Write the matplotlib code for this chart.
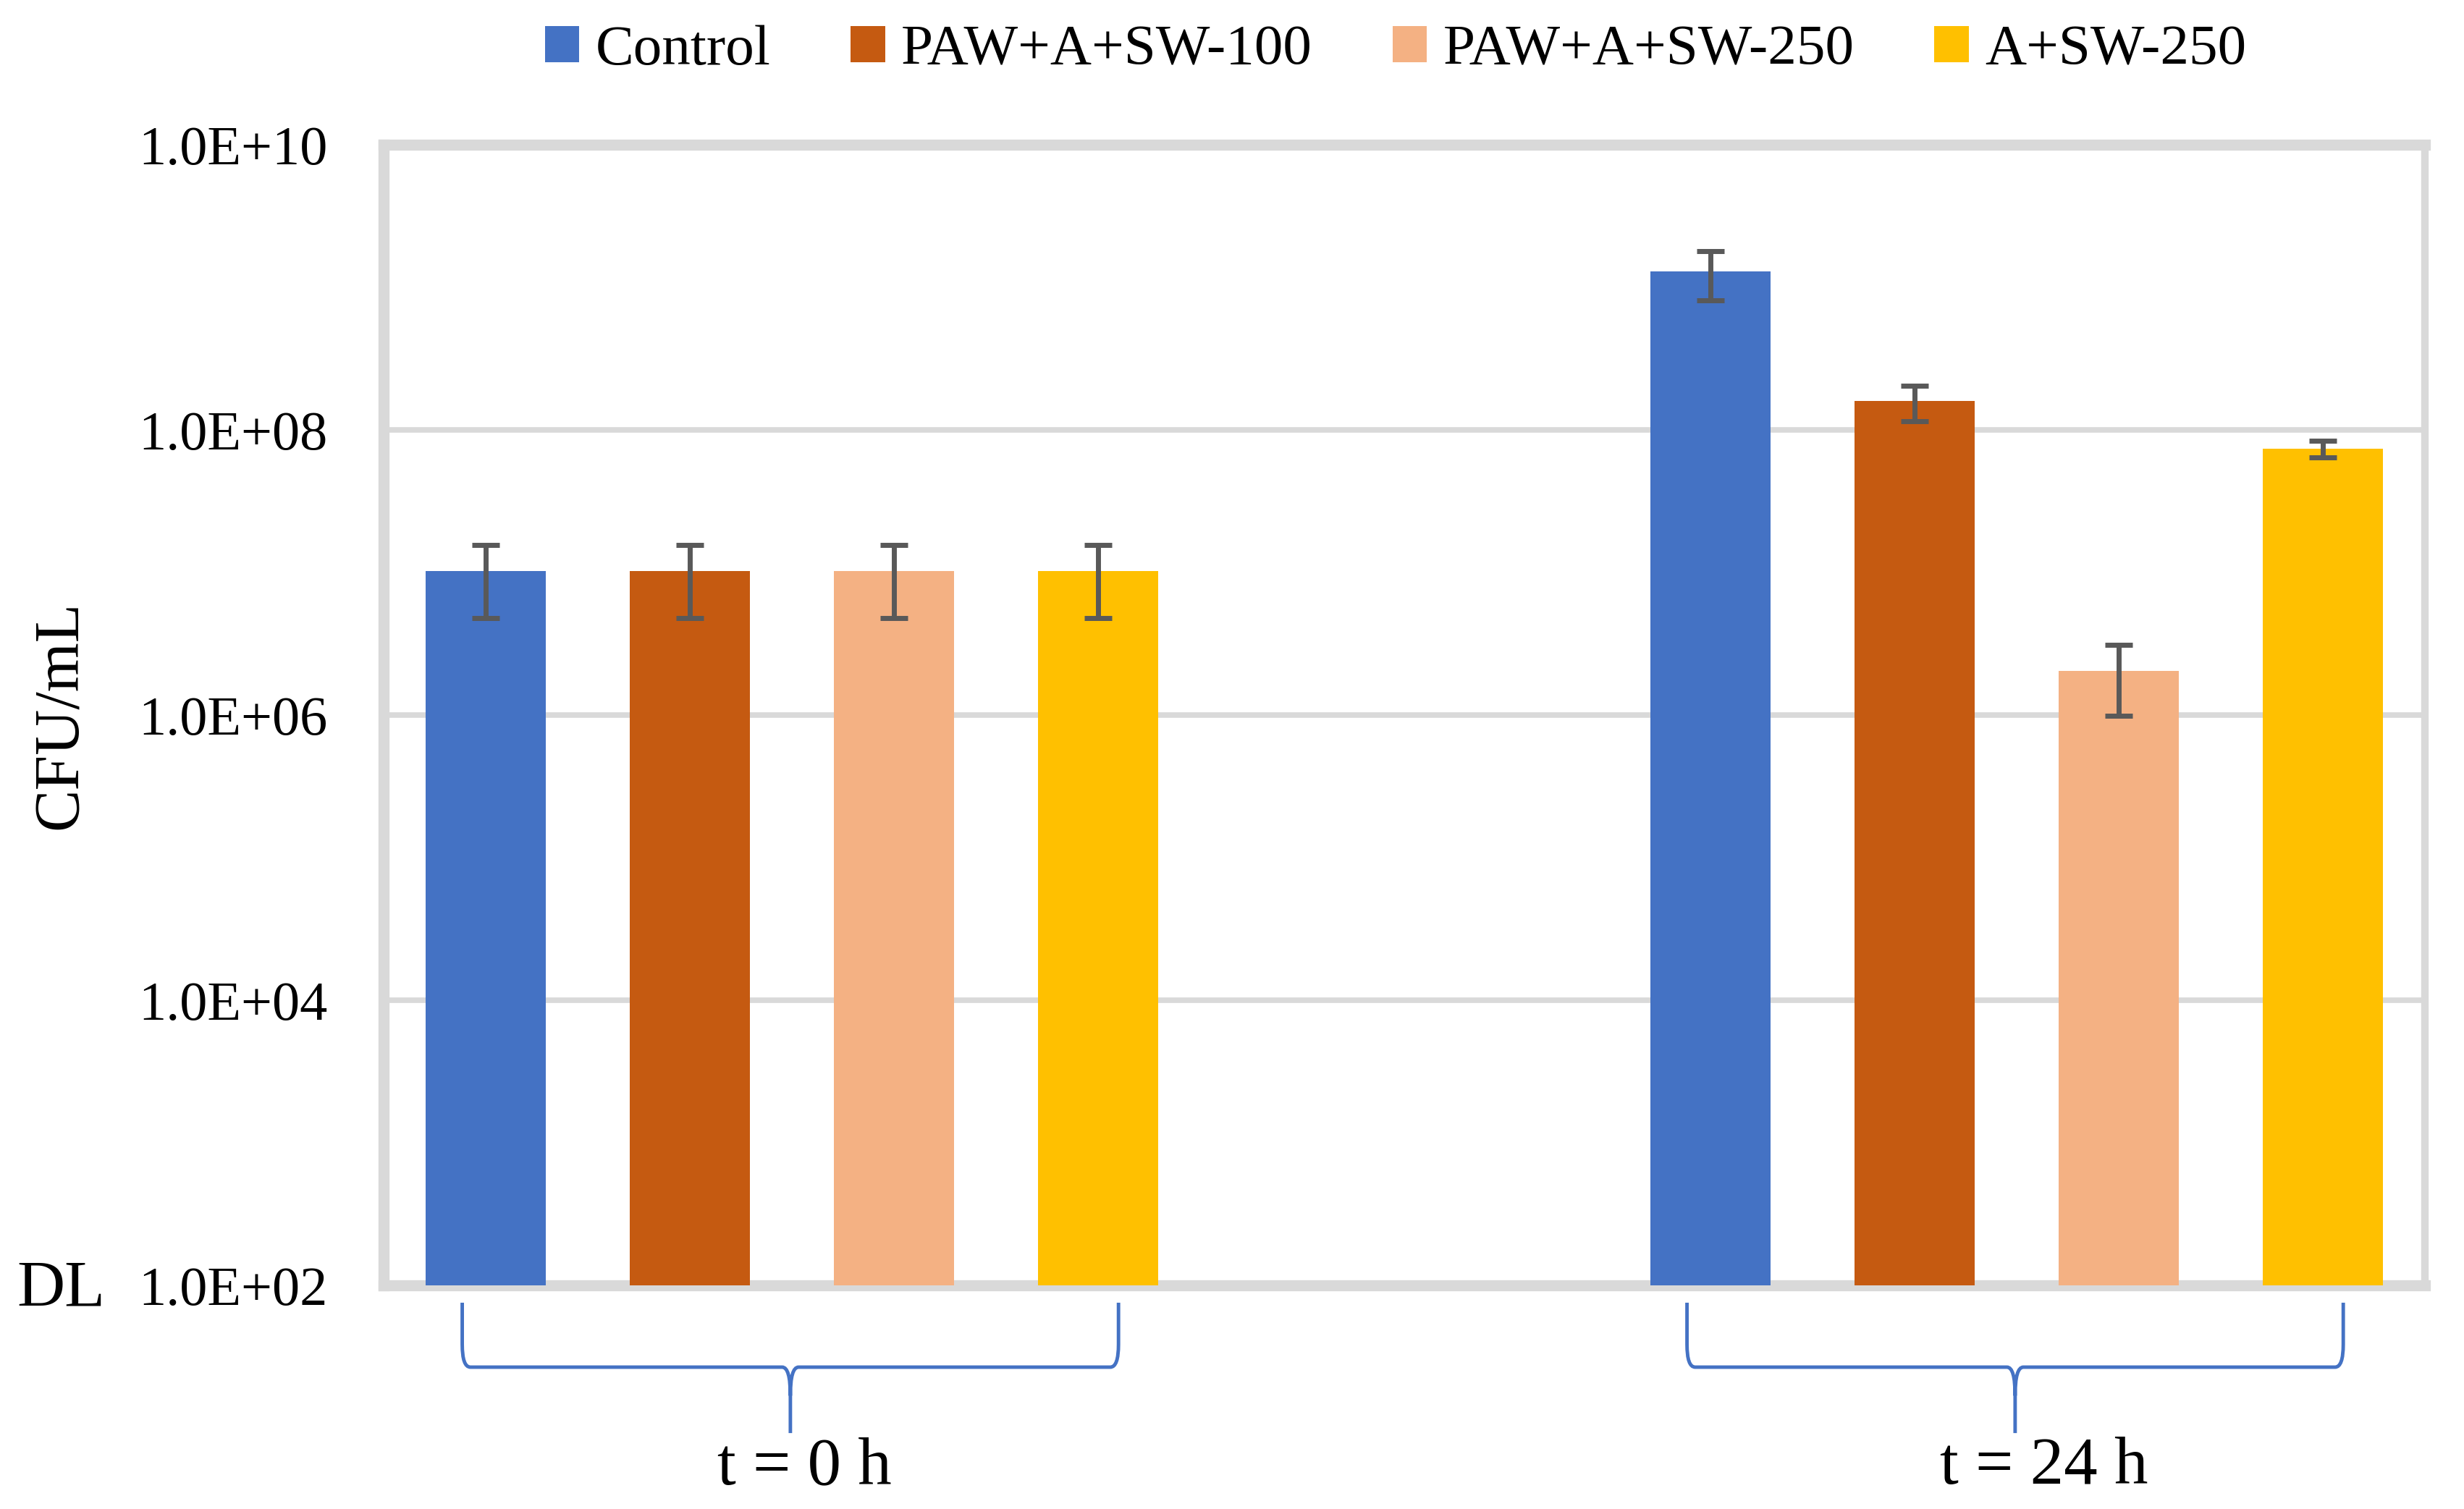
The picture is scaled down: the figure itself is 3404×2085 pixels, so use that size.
import matplotlib
matplotlib.use("Agg")
import matplotlib.pyplot as plt
import numpy as np
from matplotlib.path import Path
from matplotlib.patches import PathPatch
import matplotlib.transforms as mtransforms

plt.rcParams['font.family'] = ['Liberation Serif', 'DejaVu Serif']

# data
times = ["t = 0 h", "t = 24 h"]
series = ["Control", "PAW+A+SW-100", "PAW+A+SW-250", "A+SW-250"]
colors = ["#4472C4", "#C55A11", "#F4B183", "#FFC000"]
cfu_0h = [1.02e7, 1.02e7, 1.02e7, 1.02e7]
err_0h = [5.4e6, 5.4e6, 5.4e6, 5.4e6]
cfu_24h = [1.3e9, 1.6e8, 2.05e6, 7.4e7]
err_24h = [4.9e8, 4.45e7, 1.06e6, 9.7e6]
yticks = [1e2, 1e4, 1e6, 1e8, 1e10]
ytick_labels = ["1.0E+02", "1.0E+04", "1.0E+06", "1.0E+08", "1.0E+10"]

values = np.array([cfu_0h, cfu_24h])
errors = np.array([err_0h, err_24h])

W, H = 3405, 2085
fig = plt.figure(figsize=(W / 100, H / 100), dpi=100)
ax = fig.add_axes([530 / W, 1 - 1776 / H, (3350 - 530) / W, (1776 - 200) / H])

grid_col = "#D9D9D9"
group_step = 6
bar_w = 0.59

for i, name in enumerate(series):
    xs = np.arange(len(times)) * group_step + i
    ax.bar(xs, values[:, i], width=bar_w, color=colors[i], label=name, zorder=2)
    ax.errorbar(xs, values[:, i], yerr=errors[:, i], fmt='none', ecolor='#595959',
                elinewidth=5, capsize=13.5, capthick=5, zorder=3)

ax.set_yscale('log')
ax.set_ylim(1e2, 1e10)
ax.set_xlim(-0.5, 9.5)
ax.set_yticks(yticks)
ax.set_yticklabels(ytick_labels)
ax.yaxis.set_minor_locator(matplotlib.ticker.NullLocator())
ax.set_xticks([])
ax.tick_params(axis='y', length=0, pad=56, labelsize=55)
ax.yaxis.grid(True, color=grid_col, linewidth=5.5)
ax.set_axisbelow(True)

for side in ['left', 'top', 'bottom']:
    ax.spines[side].set_color(grid_col)
    ax.spines[side].set_linewidth(11)
ax.spines['right'].set_color(grid_col)
ax.spines['right'].set_linewidth(7.5)
for sp in ax.spines.values():
    sp.set_zorder(1)

ax.yaxis.set_label_coords(-(530 - 125) / (3350 - 530), 0.5)
ax.set_ylabel("CFU/mL", fontsize=63)

fig.text(23 / W, 1 - 1804 / H, "DL", fontsize=66, ha='left', va='baseline')

# braces under each group
trans = mtransforms.blended_transform_factory(ax.transData, ax.transAxes)
y_top, y_h, y_tip = -0.0152, -0.0717, -0.1295
r = 0.04
label_shift = [0.07, 0.14]
for g, label in enumerate(times):
    xl = g * group_step - 0.115
    xr = g * group_step + len(series) - 1 + 0.1
    xm = (xl + xr) / 2
    verts = [(xl, y_top), (xl, y_h + 0.02), (xl, y_h), (xl + r, y_h),
             (xm - r, y_h), (xm, y_h), (xm, y_h - 0.025), (xm, y_tip),
             (xm, y_h - 0.025), (xm, y_h), (xm + r, y_h),
             (xr - r, y_h), (xr, y_h), (xr, y_h + 0.02), (xr, y_top)]
    codes = [Path.MOVETO, Path.LINETO, Path.CURVE3, Path.CURVE3,
             Path.LINETO, Path.CURVE3, Path.CURVE3, Path.LINETO,
             Path.MOVETO, Path.CURVE3, Path.CURVE3,
             Path.LINETO, Path.CURVE3, Path.CURVE3, Path.LINETO]
    patch = PathPatch(Path(verts, codes), transform=trans, fill=False,
                      edgecolor="#4472C4", linewidth=3.5, clip_on=False)
    ax.add_patch(patch)
    ax.text(xm + label_shift[g], (1776 - 2050) / 1576, label, transform=trans,
            fontsize=67, ha='center', va='baseline')

fig.legend(loc='center', bbox_to_anchor=(1928 / W, 1 - 70 / H), ncol=4, frameon=False,
           fontsize=57, handlelength=0.6, handleheight=0.6, handletextpad=0.28,
           columnspacing=1.4, borderpad=0)

fig.savefig("out.png", dpi=100, facecolor='white')
